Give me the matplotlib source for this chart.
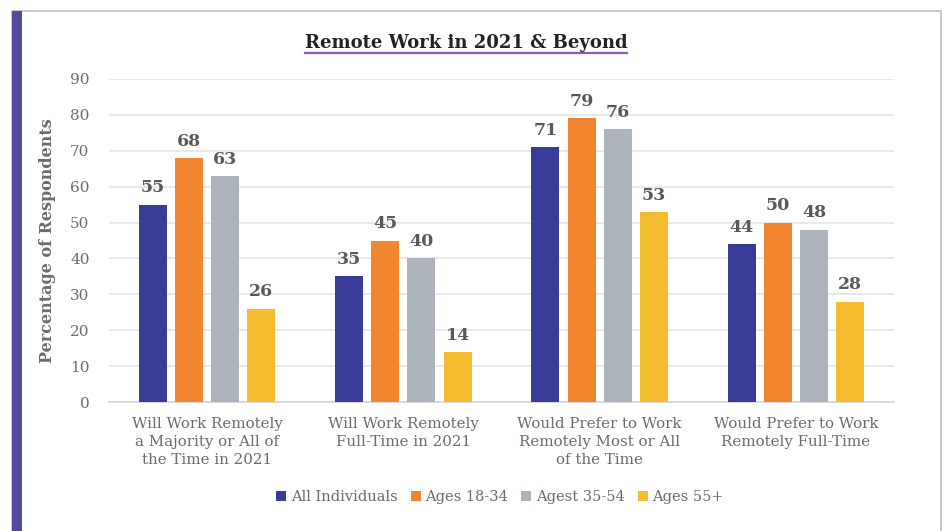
import numpy as np
import matplotlib.pyplot as plt
from matplotlib.patches import Rectangle
from matplotlib.lines import Line2D

categories = ["Will Work Remotely\na Majority or All of\nthe Time in 2021",
              "Will Work Remotely\nFull-Time in 2021",
              "Would Prefer to Work\nRemotely Most or All\nof the Time",
              "Would Prefer to Work\nRemotely Full-Time"]
series = ["All Individuals", "Ages 18-34", "Agest 35-54", "Ages 55+"]
all_individuals = [55, 35, 71, 44]
ages_18_34 = [68, 45, 79, 50]
ages_35_54 = [63, 40, 76, 48]
ages_55_plus = [26, 14, 53, 28]
colors = ["#383c96", "#f28530", "#adb3bb", "#f6bc2f"]

plt.rcParams['font.family'] = ['DejaVu Serif']

W, H = 946, 531
fig = plt.figure(figsize=(W / 100, H / 100), dpi=100)

# frame and purple side strip
fig.patches.append(Rectangle((12 / W, -0.01), (941 - 12) / W, 1 - 11 / H + 0.01,
                             transform=fig.transFigure, fill=False,
                             edgecolor="#b9c0c0", lw=1.2))
fig.patches.append(Rectangle((12 / W, 0), 10 / W, 1 - 11 / H,
                             transform=fig.transFigure, color="#524a9c", lw=0))

ax = fig.add_axes([109 / W, 1 - 402 / H, (894 - 109) / W, (402 - 79) / H])

data = [all_individuals, ages_18_34, ages_35_54, ages_55_plus]
x = np.arange(len(categories))
width = 0.143
step = 0.184
for i, (vals, name, c) in enumerate(zip(data, series, colors)):
    pos = x + (i - 1.5) * step
    ax.bar(pos, vals, width, color=c, label=name, zorder=3)
    for p, v in zip(pos, vals):
        ax.text(p, v + 2.3, str(v), ha="center", va="bottom",
                fontsize=12.5, fontweight="bold", color="#595959")

ax.set_xlim(-0.5, 3.5)
ax.set_ylim(0, 90)
ax.set_yticks(range(0, 91, 10))
ax.yaxis.grid(True, color="#e2e2e6", lw=1.1, zorder=0)
for s in ["top", "right", "left"]:
    ax.spines[s].set_visible(False)
ax.spines["bottom"].set_color("#d6d6dc")
ax.spines["bottom"].set_linewidth(1.3)
ax.tick_params(axis="y", length=0, pad=14, labelsize=11, labelcolor="#6b6b6b")
ax.tick_params(axis="x", length=0, pad=11, labelsize=10.8, labelcolor="#6b6b6b")
ax.set_xticks(x)
ax.set_xticklabels(categories, linespacing=1.35)
ax.set_ylabel("Percentage of Respondents", fontsize=11.5, fontweight="bold",
              color="#6b6b6b", labelpad=10)

title = fig.text(466 / W, 1 - 43 / H, "Remote Work in 2021 & Beyond", ha="center",
                 va="center", fontsize=13, fontweight="bold", color="#222222")

leg = fig.legend(loc="center", bbox_to_anchor=(500 / W, 1 - 497 / H), ncol=4,
                 frameon=False, fontsize=10.5, handlelength=0.7, handleheight=0.7,
                 handletextpad=0.3, columnspacing=0.9)
for t in leg.get_texts():
    t.set_color("#6b6b6b")

# purple underline beneath the title
fig.canvas.draw()
bb = title.get_window_extent().transformed(fig.transFigure.inverted())
fig.lines.append(Line2D([bb.x0, bb.x1], [1 - 53 / H] * 2, transform=fig.transFigure,
                        color="#8a5cb8", lw=1.6))

fig.savefig("out.png", dpi=100)
